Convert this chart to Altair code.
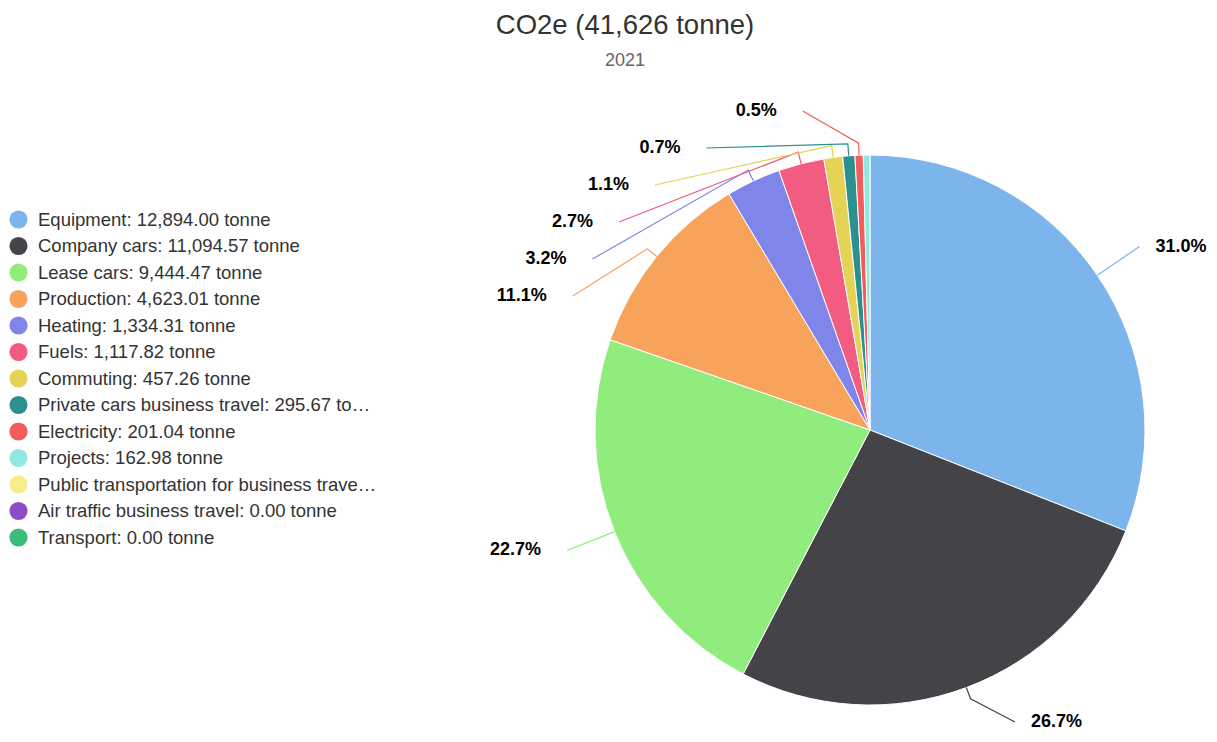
import math
import altair as alt
import pandas as pd

# ---------------- data ----------------
categories = [
    "Equipment", "Company cars", "Lease cars", "Production", "Heating", "Fuels",
    "Commuting", "Private cars business travel", "Electricity", "Projects",
    "Public transportation for business travel", "Air traffic business travel", "Transport",
]
values = [12894.00, 11094.57, 9444.47, 4623.01, 1334.31, 1117.82,
          457.26, 295.67, 201.04, 162.98, 0.00, 0.00, 0.00]
colors = ["#7cb5ec", "#434348", "#90ed7d", "#f7a35c", "#8085e9", "#f15c80",
          "#e4d354", "#2b908f", "#f45b5b", "#91e8e1", "#f5ee8a", "#8e4bc7", "#3dbb7a"]

TITLE = "CO2e (41,626 tonne)"
SUBTITLE = "2021"
UNIT = "tonne"

# ---------------- layout constants ----------------
W, H = 660, 550          # plot area (pie centred in it)
R_PIE = 275              # pie radius
R_LBL = 326              # circle on which label connectors end
SPACING = 37             # min vertical distance between labels
TOP_Y, BOT_Y = 319, -292 # label y limits (y up, relative to centre)
FONT = "Liberation Sans"

total = sum(values)
legend_labels = [f"{c}: {v:,.2f} {UNIT}" for c, v in zip(categories, values)]

# ---------------- slice geometry from values ----------------
rows = []
cum = 0.0
for i, (lab, v) in enumerate(zip(legend_labels, values)):
    a0 = cum / total * 2 * math.pi
    cum += v
    a1 = cum / total * 2 * math.pi
    mid = (a0 + a1) / 2
    pct = v / total * 100
    rows.append(dict(idx=i, legend=lab, value=v, mid=mid, pct=pct))

labelled = [r for r in rows if r["pct"] >= 0.45]
for r in labelled:
    r["side"] = "left" if math.sin(r["mid"]) < 0 else "right"
    r["ny"] = R_LBL * math.cos(r["mid"])

def distribute(items):
    items.sort(key=lambda r: -r["ny"])
    prev = None
    for r in items:
        y = min(r["ny"], TOP_Y)
        if prev is not None:
            y = min(y, prev - SPACING)
        r["ly"] = y
        prev = y
    nxt = None
    for r in reversed(items):
        y = max(r["ly"], BOT_Y)
        if nxt is not None:
            y = max(y, nxt + SPACING)
        r["ly"] = y
        nxt = y

for side in ("left", "right"):
    distribute([r for r in labelled if r["side"] == side])

text_rows, line_rows = [], []
for r in labelled:
    sgn = -1 if r["side"] == "left" else 1
    xc = sgn * math.sqrt(max(R_LBL ** 2 - r["ly"] ** 2, 0))
    tx = xc - 26 if sgn < 0 else xc + 16
    text_rows.append(dict(side=r["side"], px=tx, py=r["ly"], txt=f"{r['pct']:.1f}%"))
    s, c = math.sin(r["mid"]), math.cos(r["mid"])
    pts = [(R_PIE * s, R_PIE * c), ((R_PIE + 12) * s, (R_PIE + 12) * c), (xc, r["ly"])]
    for k, (x, y) in enumerate(pts):
        line_rows.append(dict(legend=r["legend"], step=k, px=x, py=y))

slices = pd.DataFrame([r for r in rows if r["value"] > 0])[["idx", "legend", "value"]]
texts = pd.DataFrame(text_rows)
lines = pd.DataFrame(line_rows)

# ---------------- chart ----------------
xs = alt.X("px:Q", scale=alt.Scale(domain=[-W / 2, W / 2], nice=False, zero=False), axis=None)
ys = alt.Y("py:Q", scale=alt.Scale(domain=[-H / 2, H / 2], nice=False, zero=False), axis=None)

arcs = alt.Chart(slices).mark_arc(outerRadius=R_PIE, stroke="white", strokeWidth=1).encode(
    theta=alt.Theta("value:Q", stack=True),
    order=alt.Order("idx:Q"),
    color=alt.Color(
        "legend:N",
        scale=alt.Scale(domain=legend_labels, range=colors),
        legend=alt.Legend(
            title=None, orient="none", legendX=-531, legendY=55,
            symbolType="circle", symbolSize=330, symbolStrokeWidth=0, symbolOpacity=1,
            labelFont=FONT, labelFontSize=18.5, labelColor="#333333", labelLimit=342,
            labelOffset=10, rowPadding=7.5, padding=0,
        ),
    ),
    tooltip=["legend:N"],
)

connectors = alt.Chart(lines).mark_line(strokeWidth=1.2).encode(
    x=xs, y=ys,
    order=alt.Order("step:Q"),
    detail="legend:N",
    stroke=alt.Stroke("legend:N", scale=alt.Scale(domain=legend_labels, range=colors), legend=None),
)

text_left = alt.Chart(texts).transform_filter(alt.datum.side == "left").mark_text(
    align="right", baseline="middle", font=FONT, fontSize=18, fontWeight="bold", color="#000000"
).encode(x=xs, y=ys, text="txt:N")

text_right = alt.Chart(texts).transform_filter(alt.datum.side == "right").mark_text(
    align="left", baseline="middle", font=FONT, fontSize=18, fontWeight="bold", color="#000000"
).encode(x=xs, y=ys, text="txt:N")

chart = alt.layer(arcs, connectors, text_left, text_right).properties(
    width=W, height=H,
    padding={"left": 532, "top": 147, "right": 9, "bottom": 29},
    autosize=alt.AutoSizeParams(type="none"),
    title=alt.TitleParams(
        text=TITLE, subtitle=SUBTITLE, anchor="middle", frame="group", dx=-245, offset=32,
        font=FONT, fontSize=27.5, fontWeight="normal", color="#333333",
        subtitleFont=FONT, subtitleFontSize=18, subtitleColor="#666666", subtitlePadding=13,
    ),
).configure_view(stroke=None)

chart.save("out.html", embed_options={"renderer": "svg", "actions": False})
